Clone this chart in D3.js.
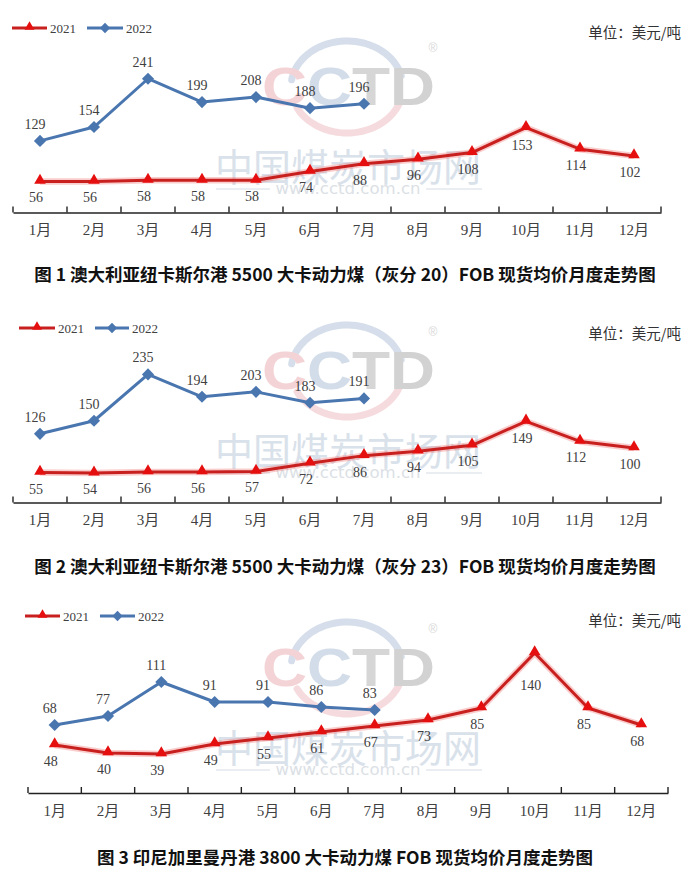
<!DOCTYPE html>
<html>
<head>
<meta charset="utf-8">
<script src="https://cdn.jsdelivr.net/npm/d3@7"></script>
<style>
  html, body { margin: 0; padding: 0; background: #fff; }
  svg { display: block; }
  .num { font-family: "Liberation Serif", "Times New Roman", serif; font-size: 14px; fill: #404040; }
  .month { font-family: "Liberation Serif", "Noto Sans CJK SC", serif; font-size: 15px; fill: #404040; }
  .unit { font-family: "Noto Sans CJK SC", sans-serif; font-size: 14.5px; fill: #333; }
  .title { font-family: "Noto Sans CJK SC", sans-serif; font-size: 17.5px; font-weight: bold; fill: #111; }
</style>
</head>
<body>
<svg id="chart" width="696" height="891"></svg>
<script>
/* three monthly FOB price panels */
const MONTHS = ['1月', '2月', '3月', '4月', '5月', '6月', '7月', '8月', '9月', '10月', '11月', '12月'];
const SERIES = ['2021', '2022'];

const NEWC20_2021 = [56, 56, 58, 58, 58, 74, 88, 96, 108, 153, 114, 102];
const NEWC20_2022 = [129, 154, 241, 199, 208, 188, 196];

const NEWC23_2021 = [55, 54, 56, 56, 57, 72, 86, 94, 105, 149, 112, 100];
const NEWC23_2022 = [126, 150, 235, 194, 203, 183, 191];

const KALI_2021 = [48, 40, 39, 49, 55, 61, 67, 73, 85, 140, 85, 68];
const KALI_2022 = [68, 77, 111, 91, 91, 86, 83];

const TITLES = [
  '图 1 澳大利亚纽卡斯尔港 5500 大卡动力煤（灰分 20）FOB 现货均价月度走势图',
  '图 2 澳大利亚纽卡斯尔港 5500 大卡动力煤（灰分 23）FOB 现货均价月度走势图',
  '图 3  印尼加里曼丹港 3800 大卡动力煤 FOB 现货均价月度走势图',
];
const UNIT = '单位：美元/吨';

const RED = '#c8201e';
const RED_MARK = '#e60f0f';
const BLUE = '#4a76b0';

const svg = d3.select('#chart');

const PANELS = [
  { a: NEWC20_2021, b: NEWC20_2022, title: TITLES[0], axisY: 212.5, xRange: [13, 661], yMax: 300, k: 0.555,
    legendY: 28, legA: [12, 47], legB: [87, 123], unitY: 33, titleY: 275, wmDy: 0 },
  { a: NEWC23_2021, b: NEWC23_2022, title: TITLES[1], axisY: 502.5, xRange: [13, 661], yMax: 300, k: 0.545,
    legendY: 328, legA: [19, 55], legB: [95, 129], unitY: 334, titleY: 567, wmDy: 284 },
  { a: KALI_2021, b: KALI_2022, title: TITLES[2], axisY: 793, xRange: [28, 668], yMax: 150, k: 1.0,
    legendY: 616, legA: [25, 60], legB: [100, 135], unitY: 621, titleY: 858, wmDy: 581 },
];

function watermark(g, dy) {
  const w = g.append('g').attr('transform', `translate(0,${dy})`).attr('opacity', 0.8);
  const cx = 347, cy = 87, rx = 56, ry = 46;
  const arc = (a0, a1) => {
    const p = d3.path();
    const n = 40;
    for (let i = 0; i <= n; i++) {
      const t = a0 + (a1 - a0) * i / n;
      const px = cx + rx * Math.cos(t), py = cy + ry * Math.sin(t);
      if (i === 0) p.moveTo(px, py); else p.lineTo(px, py);
    }
    return p.toString();
  };
  w.append('path').attr('d', arc(-Math.PI * 0.95, -Math.PI * 0.08))
    .attr('fill', 'none').attr('stroke', '#cbd7e6').attr('stroke-width', 7).attr('stroke-linecap', 'round');
  w.append('path').attr('d', arc(Math.PI * 0.12, Math.PI * 0.85))
    .attr('fill', 'none').attr('stroke', '#f5d3d7').attr('stroke-width', 7).attr('stroke-linecap', 'round');

  const logo = w.append('text')
    .attr('x', 262).attr('y', 105)
    .attr('textLength', 173).attr('lengthAdjust', 'spacingAndGlyphs')
    .style('font-family', '"Liberation Sans", Arial, sans-serif')
    .style('font-size', '53px').style('font-weight', 'bold');
  [['C', '#f2c9cd'], ['C', '#c9d5e5'], ['T', '#cdcdcd'], ['D', '#c8c8c8']].forEach(([ch, c]) => {
    logo.append('tspan').attr('fill', c).text(ch);
  });
  w.append('text').attr('x', 433).attr('y', 52).attr('text-anchor', 'middle')
    .style('font-family', '"Liberation Sans", sans-serif').style('font-size', '12px')
    .attr('fill', '#d0d0d0').text('®');

  w.append('text').attr('x', 348).attr('y', 181).attr('text-anchor', 'middle')
    .attr('textLength', 266).attr('lengthAdjust', 'spacingAndGlyphs')
    .style('font-family', '"Noto Sans CJK SC", sans-serif').style('font-size', '38px')
    .attr('fill', '#d0dae6').text('中国煤炭市场网');
  w.append('text').attr('x', 348).attr('y', 194).attr('text-anchor', 'middle')
    .attr('textLength', 145).attr('lengthAdjust', 'spacingAndGlyphs')
    .style('font-family', '"DejaVu Sans", sans-serif').style('font-size', '16px')
    .attr('fill', '#d3d9e0').text('www.cctd.com.cn');
  [[216, 270], [426, 482]].forEach(([x1, x2]) => {
    w.append('line').attr('x1', x1).attr('x2', x2).attr('y1', 189).attr('y2', 189)
      .attr('stroke', '#dde3ea').attr('stroke-width', 1.5);
  });
}

const triangle = d3.symbol(d3.symbolTriangle, 58)();
const diamond = d3.symbol(d3.symbolSquare, 74)();

function drawPanel(p) {
  const g = svg.append('g');
  watermark(g, p.wmDy);

  const x = d3.scaleBand().domain(MONTHS).range(p.xRange);
  const y = d3.scaleLinear().domain([0, p.yMax]).range([p.axisY, p.axisY - p.yMax * p.k]);
  const cxOf = (i) => x(MONTHS[i]) + x.bandwidth() / 2;

  // x axis: labels from axisBottom, boundary ticks pointing up
  const ax = g.append('g').attr('transform', `translate(0,${p.axisY})`)
    .call(d3.axisBottom(x).tickSize(0).tickPadding(12).tickSizeOuter(0));
  ax.attr('font-family', null).attr('font-size', null);
  ax.select('.domain').attr('stroke', '#222').attr('stroke-width', 1.4);
  ax.selectAll('text').attr('class', 'month');
  const edges = MONTHS.map(m => x(m)).concat([p.xRange[1]]);
  ax.selectAll('.edge').data(edges).enter().append('line')
    .attr('class', 'edge')
    .attr('x1', d => d).attr('x2', d => d).attr('y1', 0).attr('y2', -6)
    .attr('stroke', '#222').attr('stroke-width', 1.4);

  const line = d3.line().x((d, i) => cxOf(i)).y(d => y(d));

  // 2021 red with soft glow
  g.append('path').datum(p.a).attr('d', line)
    .attr('fill', 'none').attr('stroke', '#f07070').attr('stroke-opacity', 0.35).attr('stroke-width', 6.5)
    .attr('stroke-linejoin', 'round');
  g.append('path').datum(p.a).attr('d', line)
    .attr('fill', 'none').attr('stroke', RED).attr('stroke-width', 3).attr('stroke-linejoin', 'round');
  // 2022 blue
  g.append('path').datum(p.b).attr('d', line)
    .attr('fill', 'none').attr('stroke', BLUE).attr('stroke-width', 3).attr('stroke-linejoin', 'round');

  g.selectAll('.tri').data(p.a).enter().append('path')
    .attr('class', 'tri').attr('d', triangle).attr('fill', RED_MARK)
    .attr('transform', (d, i) => `translate(${cxOf(i)},${y(d) - 1})`);
  g.selectAll('.dia').data(p.b).enter().append('path')
    .attr('class', 'dia').attr('d', diamond).attr('fill', BLUE)
    .attr('transform', (d, i) => `translate(${cxOf(i)},${y(d)}) rotate(45)`);

  // labels under the red line drop further where the line falls steeply on both sides
  const drop = (arr, i) => {
    const step = x.step();
    let m = 0;
    [i - 1, i + 1].forEach(j => {
      if (j < 0 || j >= arr.length) return;
      m = Math.max(m, (y(arr[j]) - y(arr[i])) / step * 12);
    });
    return m;
  };
  g.selectAll('.lblA').data(p.a).enter().append('text')
    .attr('class', 'num').attr('text-anchor', 'middle')
    .attr('x', (d, i) => cxOf(i) - 4)
    .attr('y', (d, i) => y(d) + Math.max(21, drop(p.a, i) * 2.2 + 10))
    .text(d => d);
  g.selectAll('.lblB').data(p.b).enter().append('text')
    .attr('class', 'num').attr('text-anchor', 'middle')
    .attr('x', (d, i) => cxOf(i) - 5).attr('y', d => y(d) - 12).text(d => d);

  // legend
  const leg = [[p.legA, RED, triangle, RED_MARK, 0], [p.legB, BLUE, diamond, BLUE, 45]];
  leg.forEach(([[x1, x2], stroke, sym, fill, rot], i) => {
    g.append('line').attr('x1', x1).attr('x2', x2).attr('y1', p.legendY).attr('y2', p.legendY)
      .attr('stroke', stroke).attr('stroke-width', 3);
    g.append('path').attr('d', sym).attr('fill', fill)
      .attr('transform', `translate(${(x1 + x2) / 2},${p.legendY - (rot ? 0 : 1)}) rotate(${rot}) scale(0.85)`);
    g.append('text').attr('class', 'num').style('font-size', '13px')
      .attr('x', x2 + 3).attr('y', p.legendY + 4.5).text(SERIES[i]);
  });

  g.append('text').attr('class', 'unit').attr('text-anchor', 'end')
    .attr('x', 681).attr('y', p.unitY + 5).text(UNIT);

  g.append('text').attr('class', 'title').attr('text-anchor', 'middle')
    .attr('x', 345).attr('y', p.titleY + 6).text(p.title);
}

PANELS.forEach(drawPanel);
</script>
</body>
</html>
